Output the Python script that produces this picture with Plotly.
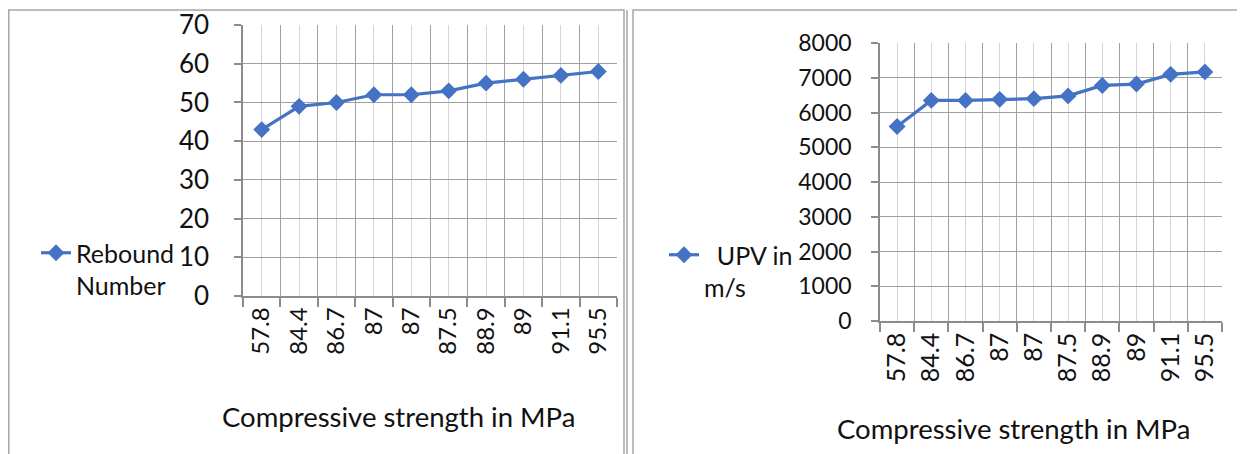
import plotly.graph_objects as go

W, H = 1245, 454
OFF = 8  # page body offset

strength_labels = ["57.8", "84.4", "86.7", "87", "87", "87.5", "88.9", "89", "91.1", "95.5"]
rebound_number = [43, 49, 50, 52, 52, 53, 55, 56, 57, 58]
upv_ms = [5600, 6350, 6350, 6380, 6400, 6480, 6780, 6820, 7100, 7170]

x_pos = list(range(len(strength_labels)))

def px(x):
    return (x - OFF) / W

def py(y):
    return 1 - (y - OFF) / H

BLUE = "#4472C4"
GRID_DARK = "#a0a0a0"
GRID_LIGHT = "#d6d6d6"
AXIS = "#8c8c8c"
FONT = "Lato, Open Sans, sans-serif"
TXT = "#111111"

fig = go.Figure()

fig.add_trace(go.Scatter(
    x=x_pos, y=rebound_number, mode="lines+markers", name="Rebound<br>Number",
    line=dict(color=BLUE, width=3.2), marker=dict(symbol="diamond", size=13, color=BLUE),
    xaxis="x", yaxis="y", legend="legend",
))
fig.add_trace(go.Scatter(
    x=x_pos, y=upv_ms, mode="lines+markers", name="\u00a0\u00a0UPV in<br>m/s",
    line=dict(color=BLUE, width=3.2), marker=dict(symbol="diamond", size=13, color=BLUE),
    xaxis="x2", yaxis="y2", legend="legend2",
))

def xaxis_cfg(domain, anchor, font):
    return dict(
        domain=domain, anchor=anchor, range=[-0.5, 9.5001], automargin=False,
        tickmode="array", tickvals=x_pos, ticktext=strength_labels,
        tickangle=-90, ticks="", showgrid=True, gridcolor=GRID_LIGHT, gridwidth=1,
        tickfont=font, zeroline=False, showline=True, linecolor=AXIS, linewidth=1.5,
        minor=dict(tick0=-0.5, dtick=1, ticks="outside", ticklen=9, tickcolor=AXIS,
                   tickwidth=1.5, showgrid=True, gridcolor=GRID_DARK, gridwidth=1.2),
        fixedrange=True,
    )

def yaxis_cfg(domain, anchor, rng, dtick, font, ticklen, standoff):
    return dict(
        domain=domain, anchor=anchor, range=rng, dtick=dtick, tick0=0, automargin=False,
        ticks="outside", ticklen=ticklen, tickcolor=AXIS, tickwidth=1.5,
        ticklabelstandoff=standoff,
        showgrid=True, gridcolor=GRID_DARK, gridwidth=1.2,
        showline=True, linecolor=AXIS, linewidth=1.5, zeroline=False,
        tickfont=font, fixedrange=True,
    )

left_tick_font = dict(family=FONT, size=26, color=TXT)
left_x_font = dict(family=FONT, size=24, color=TXT)
right_tick_font = dict(family=FONT, size=23, color=TXT)
right_x_font = dict(family=FONT, size=25, color=TXT)

fig.update_layout(
    width=W, height=H,
    margin=dict(l=0, r=0, t=0, b=0),
    paper_bgcolor="white", plot_bgcolor="white",
    xaxis=xaxis_cfg([px(243), px(617)], "y", left_x_font),
    yaxis=yaxis_cfg([py(296), py(25)], "x", [0, 70.02], 10, left_tick_font, 7, 20),
    xaxis2=xaxis_cfg([px(880), px(1222)], "y2", right_x_font),
    yaxis2=yaxis_cfg([py(321), py(43)], "x2", [0, 8002], 1000, right_tick_font, 7, 15),
    legend=dict(x=px(36), y=py(230), xanchor="left", yanchor="top", valign="top",
                font=dict(family=FONT, size=25, color=TXT), bgcolor="rgba(0,0,0,0)",
                itemclick=False),
    legend2=dict(x=px(664), y=py(232), xanchor="left", yanchor="top", valign="top",
                 font=dict(family=FONT, size=25, color=TXT), bgcolor="rgba(0,0,0,0)",
                 itemclick=False),
    showlegend=True,
)

fig.add_annotation(text="Compressive strength in MPa", x=px(398), y=py(416),
                   xref="paper", yref="paper", showarrow=False, xanchor="center", yanchor="middle",
                   font=dict(family=FONT, size=27.5, color=TXT))
fig.add_annotation(text="Compressive strength in MPa", x=px(1013), y=py(428),
                   xref="paper", yref="paper", showarrow=False, xanchor="center", yanchor="middle",
                   font=dict(family=FONT, size=27.5, color=TXT))

BORDER = "#a6a6a6"
border_paths = [
    f"M {px(8.8)},{py(470)} L {px(8.8)},{py(10)} L {px(624)},{py(10)} L {px(624)},{py(470)}",
    f"M {px(627)},{py(10)} L {px(627)},{py(470)}",
    f"M {px(633)},{py(470)} L {px(633)},{py(10)} L {px(1260)},{py(10)}",
]
for p in border_paths:
    fig.add_shape(type="path", path=p, xref="paper", yref="paper",
                  line=dict(color=BORDER, width=1.5), layer="below")

fig.write_html("out.html")
